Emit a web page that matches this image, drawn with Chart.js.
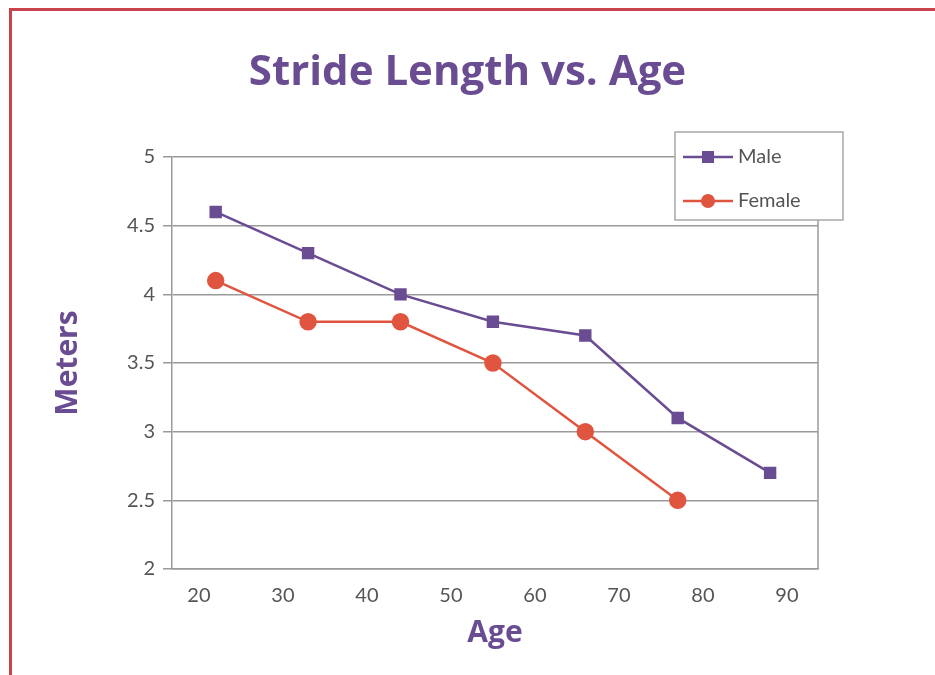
<!DOCTYPE html>
<html>
<head>
<meta charset="utf-8">
<script src="https://cdn.jsdelivr.net/npm/chart.js@4.4.1/dist/chart.umd.min.js"></script>
<style>
  html, body { margin: 0; padding: 0; background: #fff; overflow: hidden; }
  #frame {
    position: absolute; left: 9px; top: 8px; width: 960px; height: 700px;
    border-left: 3px solid #c9434c; border-top: 3px solid #c9434c;
  }
  #chart { position: absolute; left: 0; top: 0; }
</style>
</head>
<body>
<div id="frame"></div>
<canvas id="chart" width="935" height="675"></canvas>
<script>
// Dados
const ages = [22, 33, 44, 55, 66, 77, 88];
const maleStride = [4.6, 4.3, 4.0, 3.8, 3.7, 3.1, 2.7];
const femaleStride = [4.1, 3.8, 3.8, 3.5, 3.0, 2.5];
const xTicks = [20, 30, 40, 50, 60, 70, 80, 90];
const yTicks = [2, 2.5, 3, 3.5, 4, 4.5, 5];

const purple = '#6a4c93';
const red = '#e0553f';
const gridColor = '#9a9a9a';

function toPoints(vals) {
  return vals.map((v, i) => ({ x: ages[i], y: v }));
}

// Legenda flutuante e borda direita da área do gráfico
const floatingLegend = {
  id: 'floatingLegend',
  afterDraw(chart) {
    const ctx = chart.ctx;
    const area = chart.chartArea;
    ctx.save();
    // borda direita
    ctx.strokeStyle = gridColor;
    ctx.lineWidth = 1.5;
    ctx.beginPath();
    ctx.moveTo(area.right, area.top);
    ctx.lineTo(area.right, area.bottom);
    ctx.stroke();

    const bx = area.right - 143, by = area.top - 25, bw = 168, bh = 88;
    ctx.fillStyle = '#fff';
    ctx.fillRect(bx, by, bw, bh);
    ctx.strokeStyle = '#a8a8a8';
    ctx.lineWidth = 1.5;
    ctx.strokeRect(bx, by, bw, bh);

    chart.data.datasets.forEach((ds, i) => {
      const y = by + 25 + i * 44;
      ctx.strokeStyle = ds.borderColor;
      ctx.lineWidth = 2.5;
      ctx.beginPath();
      ctx.moveTo(bx + 8, y);
      ctx.lineTo(bx + 58, y);
      ctx.stroke();
      ctx.fillStyle = ds.backgroundColor;
      if (ds.pointStyle === 'rect') {
        ctx.fillRect(bx + 33 - 6, y - 6, 12, 12);
      } else {
        ctx.beginPath();
        ctx.arc(bx + 33, y, 7, 0, Math.PI * 2);
        ctx.fill();
      }
      ctx.fillStyle = '#555';
      ctx.font = '20px Lato';
      ctx.textBaseline = 'middle';
      ctx.textAlign = 'left';
      ctx.fillText(ds.label, bx + 63, y);
    });
    ctx.restore();
  }
};

const chart = new Chart(document.getElementById('chart'), {
  type: 'line',
  data: {
    datasets: [
      {
        label: 'Male',
        data: toPoints(maleStride),
        borderColor: purple,
        backgroundColor: purple,
        borderWidth: 2.5,
        pointStyle: 'rect',
        pointRadius: 7,
        pointHoverRadius: 7,
        tension: 0
      },
      {
        label: 'Female',
        data: toPoints(femaleStride),
        borderColor: red,
        backgroundColor: red,
        borderWidth: 2.5,
        pointStyle: 'circle',
        pointRadius: 7.5,
        pointHoverRadius: 7.5,
        tension: 0
      }
    ]
  },
  options: {
    responsive: false,
    animation: false,
    layout: { padding: { left: 10, right: 10, top: 0, bottom: 0 } },
    plugins: {
      legend: { display: false },
      tooltip: { enabled: false },
      title: {
        display: true,
        text: 'Stride Length vs. Age',
        color: purple,
        font: { family: 'Open Sans', size: 42, weight: 'bold' },
        padding: { top: 48, bottom: 58.6 }
      }
    },
    scales: {
      x: {
        type: 'linear',
        min: 16.8,
        max: 93.7,
        afterBuildTicks(scale) { scale.ticks = xTicks.map(v => ({ value: v })); },
        afterFit(scale) { scale.height = 675 - 569; },
        grid: { display: false, drawTicks: false },
        border: { display: true, color: gridColor, width: 1.5 },
        ticks: { color: '#555', font: { family: 'Lato', size: 20 }, padding: 15, maxRotation: 0 },
        title: {
          display: true,
          text: 'Age',
          color: purple,
          font: { family: 'Open Sans', size: 30, weight: 'bold' },
          padding: { top: 0, bottom: 24 }
        }
      },
      y: {
        min: 2,
        max: 5,
        afterBuildTicks(scale) { scale.ticks = yTicks.map(v => ({ value: v })); },
        afterFit(scale) { scale.width = 172 - 10; },
        grid: { color: gridColor, lineWidth: 1.5, tickLength: 9, drawTicks: true },
        border: { display: true, color: gridColor, width: 1.5 },
        ticks: {
          color: '#555',
          font: { family: 'Lato', size: 20 },
          padding: 8,
          callback: (v) => String(v)
        },
        title: {
          display: true,
          text: 'Meters',
          color: purple,
          font: { family: 'Open Sans', size: 30, weight: 'bold' },
          padding: { top: 40, bottom: 0 }
        }
      },
      // eixo vazio à direita, só para reservar o espaço da legenda
      yRight: {
        position: 'right',
        display: true,
        afterFit(scale) { scale.width = 925 - 818; },
        grid: { display: false, drawTicks: false },
        border: { display: false },
        ticks: { display: false }
      }
    }
  },
  plugins: [floatingLegend]
});
</script>
</body>
</html>
